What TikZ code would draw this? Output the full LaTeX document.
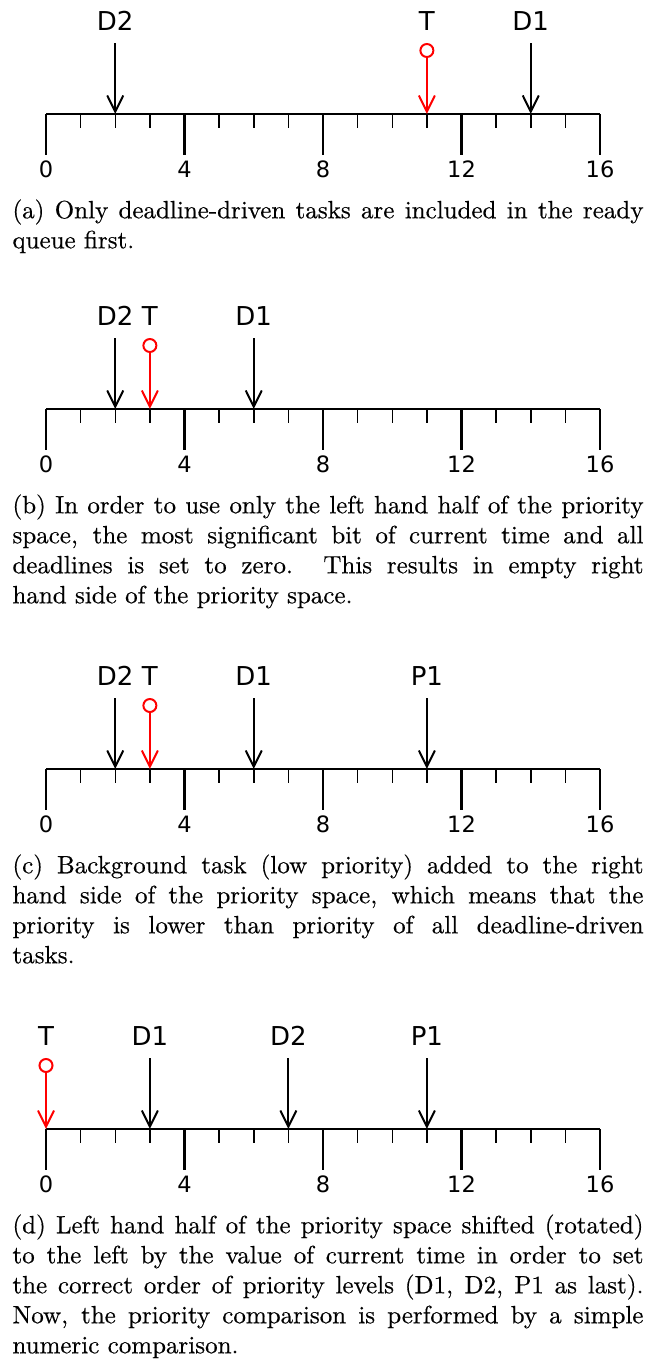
\documentclass[tikz,border=0pt]{standalone}
\usepackage{fontspec}
\newfontfamily\labelfont{DejaVu Sans}
\newfontfamily\capfont{lmroman10-regular.otf}[FakeBold=0.4]
\usetikzlibrary{arrows.meta,calc}

% one time axis 0..16: #1 name prefix, #2 vertical position of the axis
\newcommand{\timeaxis}[2]{%
  \foreach \k in {0,...,16}{\coordinate (#1t\k) at ({46+34.625*\k},#2);}
  \draw[axisline] (#1t0) -- (#1t16);
  \foreach \k in {1,2,3,5,6,7,9,10,11,13,14,15}{\draw[minortick] (#1t\k) -- ++(0,14);}
  \foreach \k in {0,4,8,12,16}{%
    \draw[majortick] (#1t\k) -- ++(0,41);
    \node[ticklabel] (#1n\k) at ($(#1t\k)+(0,63)$) {\k};}
}
% deadline / priority marker: #1 prefix, #2 name, #3 tick, #4 label
\newcommand{\taskmark}[4]{%
  \node[tasklabel] (#1#2) at ($(#1t#3)+(0,-84)$) {#4};
  \coordinate (#1#2top) at ($(#1t#3)+(0,-71)$);
  \draw[marker] (#1#2top) -- (#1t#3);
}
% current time marker: #1 prefix, #2 tick
\newcommand{\timemark}[2]{%
  \node[tasklabel] (#1T) at ($(#1t#2)+(0,-84)$) {T};
  \node[timering] (#1ring) at ($(#1t#2)+(0,-63.5)$) {};
  \draw[marker,red] (#1ring) -- (#1t#2);
}

\begin{document}
\begin{tikzpicture}[x=0.4pt,y=-0.4pt,
  axisline/.style={line width=1pt},
  majortick/.style={line width=1pt},
  minortick/.style={line width=0.6pt},
  marker/.style={line width=0.8pt,-{Straight Barb[length=6.5pt,width=6.4pt,line width=0.8pt]}},
  timering/.style={draw=red,line width=0.8pt,circle,inner sep=0pt,minimum size=5.2pt},
  tasklabel/.style={font=\labelfont\fontsize{10.4}{12}\selectfont,anchor=base,inner sep=0pt},
  ticklabel/.style={font=\labelfont\fontsize{9}{11}\selectfont,anchor=base,inner sep=0pt},
  caption/.style={anchor=north west,inner sep=0pt,text width=252.4pt,align=justify,
    font=\capfont\fontsize{10}{12}\selectfont}]
\useasboundingbox (0,0) rectangle (646,1366);

% (a)
\timeaxis{a}{114}
\taskmark{a}{D2}{2}{D2}
\taskmark{a}{D1}{14}{D1}
\timemark{a}{11}
\node[caption] (capa) at (12,199) {(a) Only deadline-driven tasks are included in the ready\linebreak queue first.};

% (b)
\timeaxis{b}{409}
\taskmark{b}{D2}{2}{D2}
\taskmark{b}{D1}{6}{D1}
\timemark{b}{3}
\node[caption] (capb) at (12,494) {(b) In order to use only the left hand half of the priority\linebreak space, the most significant bit of current time and all\linebreak deadlines is set to zero. This results in empty right\linebreak hand side of the priority space.};

% (c)
\timeaxis{c}{769}
\taskmark{c}{D2}{2}{D2}
\taskmark{c}{D1}{6}{D1}
\taskmark{c}{P1}{11}{P1}
\timemark{c}{3}
\node[caption] (capc) at (12,854) {(c) Background task (low priority) added to the right\linebreak hand side of the priority space, which means that the\linebreak priority is lower than priority of all deadline-driven\linebreak tasks.};

% (d)
\timeaxis{d}{1129}
\taskmark{d}{D1}{3}{D1}
\taskmark{d}{D2}{7}{D2}
\taskmark{d}{P1}{11}{P1}
\timemark{d}{0}
\node[caption] (capd) at (12,1214) {(d) Left hand half of the priority space shifted (rotated)\linebreak to the left by the value of current time in order to set\linebreak the correct order of priority levels (D1, D2, P1 as last).\linebreak Now, the priority comparison is performed by a simple\linebreak numeric comparison.};
\end{tikzpicture}
\end{document}
